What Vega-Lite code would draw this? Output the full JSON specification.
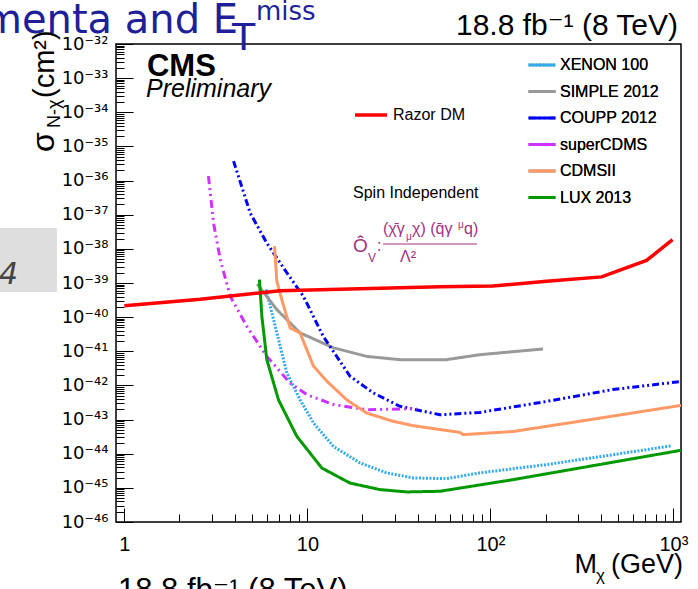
{
  "$schema": "https://vega.github.io/schema/vega-lite/v6.json",
  "width": 565,
  "height": 478,
  "autosize": {"type": "none"},
  "padding": {"left": 116, "top": 44, "right": 17, "bottom": 67},
  "background": "#ffffff",
  "config": {"view": {"stroke": "#000000", "strokeWidth": 1.5}, "font": "Liberation Sans, DejaVu Sans"},
  "data": {"values": [{}]},
  "datasets": {
    "exp": [
      {"series": "XENON 100", "m": 5.95, "s": 6.46e-40},
      {"series": "XENON 100", "m": 6.81, "s": 3.47e-41},
      {"series": "XENON 100", "m": 7.72, "s": 2.34e-42},
      {"series": "XENON 100", "m": 9.12, "s": 3.8e-43},
      {"series": "XENON 100", "m": 10.8, "s": 7.94e-44},
      {"series": "XENON 100", "m": 13.9, "s": 1.62e-44},
      {"series": "XENON 100", "m": 19.4, "s": 5.37e-45},
      {"series": "XENON 100", "m": 27.1, "s": 2.75e-45},
      {"series": "XENON 100", "m": 37.9, "s": 1.95e-45},
      {"series": "XENON 100", "m": 57.6, "s": 1.86e-45},
      {"series": "XENON 100", "m": 87.5, "s": 2.75e-45},
      {"series": "XENON 100", "m": 202, "s": 4.79e-45},
      {"series": "XENON 100", "m": 467, "s": 9.33e-45},
      {"series": "XENON 100", "m": 973, "s": 1.7e-44},
      {"series": "SIMPLE 2012", "m": 5.32, "s": 9.33e-40},
      {"series": "SIMPLE 2012", "m": 6.81, "s": 1.66e-40},
      {"series": "SIMPLE 2012", "m": 9.12, "s": 3.47e-41},
      {"series": "SIMPLE 2012", "m": 13.9, "s": 1.26e-41},
      {"series": "SIMPLE 2012", "m": 21.1, "s": 7.08e-42},
      {"series": "SIMPLE 2012", "m": 32.0, "s": 5.69e-42},
      {"series": "SIMPLE 2012", "m": 57.6, "s": 5.69e-42},
      {"series": "SIMPLE 2012", "m": 87.5, "s": 7.94e-42},
      {"series": "SIMPLE 2012", "m": 194, "s": 1.17e-41},
      {"series": "COUPP 2012", "m": 3.95, "s": 3.72e-36},
      {"series": "COUPP 2012", "m": 4.87, "s": 1.12e-37},
      {"series": "COUPP 2012", "m": 6.0, "s": 1.48e-38},
      {"series": "COUPP 2012", "m": 7.72, "s": 2.0e-39},
      {"series": "COUPP 2012", "m": 9.51, "s": 4.07e-40},
      {"series": "COUPP 2012", "m": 12.2, "s": 2.75e-41},
      {"series": "COUPP 2012", "m": 17.1, "s": 1.86e-42},
      {"series": "COUPP 2012", "m": 22.9, "s": 6.03e-43},
      {"series": "COUPP 2012", "m": 32.0, "s": 2.45e-43},
      {"series": "COUPP 2012", "m": 53, "s": 1.38e-43},
      {"series": "COUPP 2012", "m": 87.5, "s": 1.62e-43},
      {"series": "COUPP 2012", "m": 202, "s": 3.39e-43},
      {"series": "COUPP 2012", "m": 467, "s": 7.59e-43},
      {"series": "COUPP 2012", "m": 1100, "s": 1.3e-42},
      {"series": "superCDMS", "m": 2.88, "s": 1.35e-36},
      {"series": "superCDMS", "m": 3.07, "s": 5.75e-38},
      {"series": "superCDMS", "m": 3.34, "s": 4.9e-39},
      {"series": "superCDMS", "m": 3.79, "s": 4.07e-40},
      {"series": "superCDMS", "m": 4.67, "s": 5.37e-41},
      {"series": "superCDMS", "m": 6.0, "s": 7.08e-42},
      {"series": "superCDMS", "m": 8.05, "s": 1.17e-42},
      {"series": "superCDMS", "m": 9.93, "s": 5.37e-43},
      {"series": "superCDMS", "m": 13.9, "s": 2.75e-43},
      {"series": "superCDMS", "m": 21.1, "s": 1.95e-43},
      {"series": "superCDMS", "m": 39.5, "s": 2.09e-43},
      {"series": "CDMSII", "m": 6.61, "s": 1.2e-38},
      {"series": "CDMSII", "m": 6.81, "s": 1.12e-39},
      {"series": "CDMSII", "m": 7.25, "s": 3.24e-40},
      {"series": "CDMSII", "m": 8.05, "s": 4.79e-41},
      {"series": "CDMSII", "m": 9.12, "s": 3.47e-41},
      {"series": "CDMSII", "m": 10.8, "s": 3.63e-42},
      {"series": "CDMSII", "m": 12.8, "s": 1.32e-42},
      {"series": "CDMSII", "m": 16.4, "s": 3.8e-43},
      {"series": "CDMSII", "m": 21.1, "s": 1.55e-43},
      {"series": "CDMSII", "m": 29.4, "s": 8.91e-44},
      {"series": "CDMSII", "m": 37.9, "s": 6.61e-44},
      {"series": "CDMSII", "m": 68.1, "s": 4.22e-44},
      {"series": "CDMSII", "m": 71.0, "s": 3.63e-44},
      {"series": "CDMSII", "m": 133, "s": 4.47e-44},
      {"series": "CDMSII", "m": 307, "s": 8.91e-44},
      {"series": "CDMSII", "m": 1100, "s": 2.6e-43},
      {"series": "LUX 2013", "m": 5.47, "s": 1.26e-39},
      {"series": "LUX 2013", "m": 5.64, "s": 1.05e-40},
      {"series": "LUX 2013", "m": 6.0, "s": 5.75e-42},
      {"series": "LUX 2013", "m": 6.95, "s": 3.8e-43},
      {"series": "LUX 2013", "m": 8.75, "s": 3.24e-44},
      {"series": "LUX 2013", "m": 12.0, "s": 3.8e-45},
      {"series": "LUX 2013", "m": 17.1, "s": 1.38e-45},
      {"series": "LUX 2013", "m": 24.9, "s": 8.91e-46},
      {"series": "LUX 2013", "m": 34.9, "s": 7.59e-46},
      {"series": "LUX 2013", "m": 53, "s": 7.94e-46},
      {"series": "LUX 2013", "m": 133, "s": 1.74e-45},
      {"series": "LUX 2013", "m": 1100, "s": 1.26e-44}
    ],
    "razor": [
      {"series": "Razor DM", "m": 1, "s": 2.16e-40},
      {"series": "Razor DM", "m": 2.6, "s": 3.33e-40},
      {"series": "Razor DM", "m": 7.1, "s": 5.96e-40},
      {"series": "Razor DM", "m": 24.9, "s": 7.0e-40},
      {"series": "Razor DM", "m": 53, "s": 7.8e-40},
      {"series": "Razor DM", "m": 103, "s": 8.17e-40},
      {"series": "Razor DM", "m": 203, "s": 1.12e-39},
      {"series": "Razor DM", "m": 405, "s": 1.51e-39},
      {"series": "Razor DM", "m": 713, "s": 4.57e-39},
      {"series": "Razor DM", "m": 989, "s": 1.86e-38}
    ]
  },
  "layer": [
    {
      "mark": {"type": "rect", "color": "#dedede"},
      "encoding": {
        "x": {"datum": 0.209, "type": "quantitative", "scale": {"type": "log", "domain": [0.9, 1100], "nice": false}, "axis": null},
        "x2": {"datum": 0.428},
        "y": {"datum": 4.08e-38, "type": "quantitative", "scale": {"type": "log", "domain": [1e-46, 1e-32], "nice": false}, "axis": null},
        "y2": {"datum": 5.44e-40}
      }
    },
    {
      "data": {"name": "exp"},
      "mark": {"type": "line", "strokeWidth": 3, "clip": true},
      "encoding": {
        "x": {"field": "m", "type": "quantitative", "scale": {"type": "log", "domain": [0.9, 1100], "nice": false},
          "axis": {"orient": "bottom", "values": [1, 10, 100, 1000], "labelExpr": "datum.value == 1 ? '1' : datum.value == 10 ? '10' : datum.value == 100 ? '10²' : '10³'", "tickSize": -14, "tickColor": "#000000", "tickWidth": 1, "domain": false, "grid": false, "title": null, "labelFont": "Liberation Sans, DejaVu Sans", "labelFontSize": 20, "labelColor": "#000000", "labelPadding": 26, "labelFlush": false, "labelOverlap": false, "labelBaseline": "top"}},
        "y": {"field": "s", "type": "quantitative", "scale": {"type": "log", "domain": [1e-46, 1e-32], "nice": false},
          "axis": {"orient": "left", "values": [1e-46, 1e-45, 1e-44, 1e-43, 1e-42, 1e-41, 1e-40, 1e-39, 1e-38, 1e-37, 1e-36, 1e-35, 1e-34, 1e-33, 1e-32], "labelExpr": "datum.value < 3e-46 ? '10⁻⁴⁶' : datum.value < 3e-45 ? '10⁻⁴⁵' : datum.value < 3e-44 ? '10⁻⁴⁴' : datum.value < 3e-43 ? '10⁻⁴³' : datum.value < 3e-42 ? '10⁻⁴²' : datum.value < 3e-41 ? '10⁻⁴¹' : datum.value < 3e-40 ? '10⁻⁴⁰' : datum.value < 3e-39 ? '10⁻³⁹' : datum.value < 3e-38 ? '10⁻³⁸' : datum.value < 3e-37 ? '10⁻³⁷' : datum.value < 3e-36 ? '10⁻³⁶' : datum.value < 3e-35 ? '10⁻³⁵' : datum.value < 3e-34 ? '10⁻³⁴' : datum.value < 3e-33 ? '10⁻³³' : '10⁻³²'", "tickSize": -17, "tickColor": "#000000", "tickWidth": 1, "domain": false, "grid": false, "title": null, "labelFont": "DejaVu Sans", "labelFontSize": 18, "labelColor": "#000000", "labelPadding": 25, "labelFlush": false, "labelOverlap": false, "labelAlign": "right", "labelBaseline": "middle"}},
        "color": {"field": "series", "type": "nominal",
          "scale": {"domain": ["XENON 100", "SIMPLE 2012", "COUPP 2012", "superCDMS", "CDMSII", "LUX 2013"], "range": ["#33aaee", "#999999", "#0000ff", "#cc33ff", "#ff9966", "#009900"]},
          "legend": {"orient": "none", "legendX": 411, "legendY": 6, "title": null, "symbolType": "stroke", "symbolSize": 729, "symbolStrokeWidth": 3, "labelFont": "Liberation Sans", "labelFontSize": 16, "labelColor": "#000000", "labelOffset": 3, "rowPadding": 3.5, "padding": 0}},
        "strokeDash": {"field": "series", "type": "nominal",
          "scale": {"domain": ["XENON 100", "SIMPLE 2012", "COUPP 2012", "superCDMS", "CDMSII", "LUX 2013"], "range": [[2, 1.5], [1, 0], [7, 3, 2, 3, 2, 3], [8, 4, 2, 4, 2, 4], [1, 0], [1, 0]]},
          "legend": {"orient": "none", "legendX": 411, "legendY": 6, "title": null, "symbolType": "stroke", "symbolSize": 729, "symbolStrokeWidth": 3, "labelFont": "Liberation Sans", "labelFontSize": 16, "labelColor": "#000000", "labelOffset": 3, "rowPadding": 3.5, "padding": 0}}
      }
    },
    {
      "data": {"name": "razor"},
      "mark": {"type": "line", "strokeWidth": 3.5, "clip": true},
      "encoding": {
        "x": {"field": "m", "type": "quantitative", "scale": {"type": "log", "domain": [0.9, 1100], "nice": false},
          "axis": {"orient": "bottom", "values": [2, 3, 4, 5, 6, 7, 8, 9, 20, 30, 40, 50, 60, 70, 80, 90, 200, 300, 400, 500, 600, 700, 800, 900], "labels": false, "tickSize": -8, "tickColor": "#000000", "tickWidth": 1, "domain": false, "grid": false, "title": null}},
        "y": {"field": "s", "type": "quantitative", "scale": {"type": "log", "domain": [1e-46, 1e-32], "nice": false},
          "axis": {"orient": "left", "values": [2e-46, 3e-46, 4e-46, 5e-46, 6e-46, 7e-46, 8e-46, 9e-46, 2e-45, 3e-45, 4e-45, 5e-45, 6e-45, 7e-45, 8e-45, 9e-45, 2e-44, 3e-44, 4e-44, 5e-44, 6e-44, 7e-44, 8e-44, 9e-44, 2e-43, 3e-43, 4e-43, 5e-43, 6e-43, 7e-43, 8e-43, 9e-43, 2e-42, 3e-42, 4e-42, 5e-42, 6e-42, 7e-42, 8e-42, 9e-42, 2e-41, 3e-41, 4e-41, 5e-41, 6e-41, 7e-41, 8e-41, 9e-41, 2e-40, 3e-40, 4e-40, 5e-40, 6e-40, 7e-40, 8e-40, 9e-40, 2e-39, 3e-39, 4e-39, 5e-39, 6e-39, 7e-39, 8e-39, 9e-39, 2e-38, 3e-38, 4e-38, 5e-38, 6e-38, 7e-38, 8e-38, 9e-38, 2e-37, 3e-37, 4e-37, 5e-37, 6e-37, 7e-37, 8e-37, 9e-37, 2e-36, 3e-36, 4e-36, 5e-36, 6e-36, 7e-36, 8e-36, 9e-36, 2e-35, 3e-35, 4e-35, 5e-35, 6e-35, 7e-35, 8e-35, 9e-35, 2e-34, 3e-34, 4e-34, 5e-34, 6e-34, 7e-34, 8e-34, 9e-34, 2e-33, 3e-33, 4e-33, 5e-33, 6e-33, 7e-33, 8e-33, 9e-33], "labels": false, "tickSize": -8, "tickColor": "#000000", "tickWidth": 1, "domain": false, "grid": false, "title": null}},
        "color": {"field": "series", "type": "nominal",
          "scale": {"domain": ["Razor DM"], "range": ["#ff0000"]},
          "legend": {"orient": "none", "legendX": 237, "legendY": 53, "title": null, "symbolType": "stroke", "symbolSize": 1024, "symbolStrokeWidth": 3.5, "labelFont": "Liberation Sans", "labelFontSize": 16, "labelColor": "#000000", "labelOffset": 4, "rowPadding": 0, "padding": 0}}
      }
    },
    {
      "mark": {"type": "text", "text": "18.8 fb⁻¹ (8 TeV)", "align": "right", "baseline": "alphabetic", "font": "Liberation Sans, DejaVu Sans", "fontSize": 30, "color": "#000000"},
      "encoding": {
        "x": {"datum": 1060, "type": "quantitative", "scale": {"type": "log", "domain": [0.9, 1100], "nice": false}, "axis": null},
        "y": {"datum": 1.834e-32, "type": "quantitative", "scale": {"type": "log", "domain": [1e-46, 1e-32], "nice": false}, "axis": null}
      }
    },
    {
      "mark": {"type": "text", "text": "CMS", "align": "left", "baseline": "alphabetic", "font": "Liberation Sans", "fontSize": 31, "fontWeight": "bold", "color": "#000000"},
      "encoding": {
        "x": {"datum": 1.329, "type": "quantitative", "scale": {"type": "log", "domain": [0.9, 1100], "nice": false}, "axis": null},
        "y": {"datum": 1.156e-33, "type": "quantitative", "scale": {"type": "log", "domain": [1e-46, 1e-32], "nice": false}, "axis": null}
      }
    },
    {
      "mark": {"type": "text", "text": "Preliminary", "align": "left", "baseline": "alphabetic", "font": "Liberation Sans", "fontSize": 25, "fontStyle": "italic", "color": "#000000"},
      "encoding": {
        "x": {"datum": 1.313, "type": "quantitative", "scale": {"type": "log", "domain": [0.9, 1100], "nice": false}, "axis": null},
        "y": {"datum": 2.806e-34, "type": "quantitative", "scale": {"type": "log", "domain": [1e-46, 1e-32], "nice": false}, "axis": null}
      }
    },
    {
      "mark": {"type": "text", "text": "Spin Independent", "align": "left", "baseline": "alphabetic", "font": "Liberation Sans", "fontSize": 16, "color": "#000000"},
      "encoding": {
        "x": {"datum": 17.76, "type": "quantitative", "scale": {"type": "log", "domain": [0.9, 1100], "nice": false}, "axis": null},
        "y": {"datum": 2.985e-37, "type": "quantitative", "scale": {"type": "log", "domain": [1e-46, 1e-32], "nice": false}, "axis": null}
      }
    },
    {
      "mark": {"type": "text", "text": "Ô", "align": "left", "baseline": "alphabetic", "font": "Liberation Sans", "fontSize": 19, "color": "#a3307e"},
      "encoding": {
        "x": {"datum": 17.76, "type": "quantitative", "scale": {"type": "log", "domain": [0.9, 1100], "nice": false}, "axis": null},
        "y": {"datum": 8.09e-39, "type": "quantitative", "scale": {"type": "log", "domain": [1e-46, 1e-32], "nice": false}, "axis": null}
      }
    },
    {
      "mark": {"type": "text", "text": "V", "align": "left", "baseline": "alphabetic", "font": "Liberation Sans", "fontSize": 12, "color": "#a3307e"},
      "encoding": {
        "x": {"datum": 21.45, "type": "quantitative", "scale": {"type": "log", "domain": [0.9, 1100], "nice": false}, "axis": null},
        "y": {"datum": 4.12e-39, "type": "quantitative", "scale": {"type": "log", "domain": [1e-46, 1e-32], "nice": false}, "axis": null}
      }
    },
    {
      "mark": {"type": "text", "text": ":", "align": "left", "baseline": "alphabetic", "font": "Liberation Sans", "fontSize": 16, "color": "#a3307e"},
      "encoding": {
        "x": {"datum": 24.02, "type": "quantitative", "scale": {"type": "log", "domain": [0.9, 1100], "nice": false}, "axis": null},
        "y": {"datum": 8.65e-39, "type": "quantitative", "scale": {"type": "log", "domain": [1e-46, 1e-32], "nice": false}, "axis": null}
      }
    },
    {
      "mark": {"type": "text", "text": "(χ̄γ", "align": "left", "baseline": "alphabetic", "font": "Liberation Sans, DejaVu Sans", "fontSize": 16, "color": "#a3307e"},
      "encoding": {
        "x": {"datum": 25.9, "type": "quantitative", "scale": {"type": "log", "domain": [0.9, 1100], "nice": false}, "axis": null},
        "y": {"datum": 2.72e-38, "type": "quantitative", "scale": {"type": "log", "domain": [1e-46, 1e-32], "nice": false}, "axis": null}
      }
    },
    {
      "mark": {"type": "text", "text": "μ", "align": "left", "baseline": "alphabetic", "font": "Liberation Sans", "fontSize": 10, "color": "#a3307e"},
      "encoding": {
        "x": {"datum": 34.6, "type": "quantitative", "scale": {"type": "log", "domain": [0.9, 1100], "nice": false}, "axis": null},
        "y": {"datum": 1.815e-38, "type": "quantitative", "scale": {"type": "log", "domain": [1e-46, 1e-32], "nice": false}, "axis": null}
      }
    },
    {
      "mark": {"type": "text", "text": "χ) (q̄γ", "align": "left", "baseline": "alphabetic", "font": "Liberation Sans, DejaVu Sans", "fontSize": 16, "color": "#a3307e"},
      "encoding": {
        "x": {"datum": 37.3, "type": "quantitative", "scale": {"type": "log", "domain": [0.9, 1100], "nice": false}, "axis": null},
        "y": {"datum": 2.72e-38, "type": "quantitative", "scale": {"type": "log", "domain": [1e-46, 1e-32], "nice": false}, "axis": null}
      }
    },
    {
      "mark": {"type": "text", "text": "μ", "align": "left", "baseline": "alphabetic", "font": "Liberation Sans", "fontSize": 10, "color": "#a3307e"},
      "encoding": {
        "x": {"datum": 66.5, "type": "quantitative", "scale": {"type": "log", "domain": [0.9, 1100], "nice": false}, "axis": null},
        "y": {"datum": 4.08e-38, "type": "quantitative", "scale": {"type": "log", "domain": [1e-46, 1e-32], "nice": false}, "axis": null}
      }
    },
    {
      "mark": {"type": "text", "text": "q)", "align": "left", "baseline": "alphabetic", "font": "Liberation Sans", "fontSize": 16, "color": "#a3307e"},
      "encoding": {
        "x": {"datum": 71.8, "type": "quantitative", "scale": {"type": "log", "domain": [0.9, 1100], "nice": false}, "axis": null},
        "y": {"datum": 2.72e-38, "type": "quantitative", "scale": {"type": "log", "domain": [1e-46, 1e-32], "nice": false}, "axis": null}
      }
    },
    {
      "mark": {"type": "rule", "color": "#a3307e", "strokeWidth": 1},
      "encoding": {
        "x": {"datum": 25.9, "type": "quantitative", "scale": {"type": "log", "domain": [0.9, 1100], "nice": false}, "axis": null},
        "x2": {"datum": 84.5},
        "y": {"datum": 1.387e-38, "type": "quantitative", "scale": {"type": "log", "domain": [1e-46, 1e-32], "nice": false}, "axis": null}
      }
    },
    {
      "mark": {"type": "text", "text": "Λ²", "align": "left", "baseline": "alphabetic", "font": "Liberation Sans, DejaVu Sans", "fontSize": 16, "color": "#a3307e"},
      "encoding": {
        "x": {"datum": 32.1, "type": "quantitative", "scale": {"type": "log", "domain": [0.9, 1100], "nice": false}, "axis": null},
        "y": {"datum": 4.12e-39, "type": "quantitative", "scale": {"type": "log", "domain": [1e-46, 1e-32], "nice": false}, "axis": null}
      }
    },
    {
      "mark": {"type": "text", "text": "4", "align": "right", "baseline": "alphabetic", "font": "DejaVu Sans", "fontSize": 30, "fontStyle": "italic", "color": "#444444"},
      "encoding": {
        "x": {"datum": 0.2623, "type": "quantitative", "scale": {"type": "log", "domain": [0.9, 1100], "nice": false}, "axis": null},
        "y": {"datum": 9.35e-40, "type": "quantitative", "scale": {"type": "log", "domain": [1e-46, 1e-32], "nice": false}, "axis": null}
      }
    },
    {
      "mark": {"type": "text", "text": "18.8 fb⁻¹ (8 TeV)", "align": "left", "baseline": "alphabetic", "font": "Liberation Sans, DejaVu Sans", "fontSize": 31, "color": "#000000"},
      "encoding": {
        "x": {"datum": 0.923, "type": "quantitative", "scale": {"type": "log", "domain": [0.9, 1100], "nice": false}, "axis": null},
        "y": {"datum": 5.194e-49, "type": "quantitative", "scale": {"type": "log", "domain": [1e-46, 1e-32], "nice": false}, "axis": null}
      }
    },
    {
      "mark": {"type": "text", "text": "menta and E", "align": "right", "baseline": "alphabetic", "font": "DejaVu Sans", "fontSize": 40, "color": "#1f1f99"},
      "encoding": {
        "x": {"datum": 4.18, "type": "quantitative", "scale": {"type": "log", "domain": [0.9, 1100], "nice": false}, "axis": null},
        "y": {"datum": 2.1e-32, "type": "quantitative", "scale": {"type": "log", "domain": [1e-46, 1e-32], "nice": false}, "axis": null}
      }
    },
    {
      "mark": {"type": "text", "text": "T", "align": "left", "baseline": "alphabetic", "font": "DejaVu Sans", "fontSize": 38, "color": "#1f1f99"},
      "encoding": {
        "x": {"datum": 3.874, "type": "quantitative", "scale": {"type": "log", "domain": [0.9, 1100], "nice": false}, "axis": null},
        "y": {"datum": 6.67e-33, "type": "quantitative", "scale": {"type": "log", "domain": [1e-46, 1e-32], "nice": false}, "axis": null}
      }
    },
    {
      "mark": {"type": "text", "text": "miss", "align": "left", "baseline": "alphabetic", "font": "DejaVu Sans", "fontSize": 26, "color": "#1f1f99"},
      "encoding": {
        "x": {"datum": 5.24, "type": "quantitative", "scale": {"type": "log", "domain": [0.9, 1100], "nice": false}, "axis": null},
        "y": {"datum": 5.05e-32, "type": "quantitative", "scale": {"type": "log", "domain": [1e-46, 1e-32], "nice": false}, "axis": null}
      }
    },
    {
      "mark": {"type": "text", "text": "M", "align": "left", "baseline": "alphabetic", "font": "Liberation Sans", "fontSize": 27, "color": "#000000"},
      "encoding": {
        "x": {"datum": 288, "type": "quantitative", "scale": {"type": "log", "domain": [0.9, 1100], "nice": false}, "axis": null},
        "y": {"datum": 3.21e-48, "type": "quantitative", "scale": {"type": "log", "domain": [1e-46, 1e-32], "nice": false}, "axis": null}
      }
    },
    {
      "mark": {"type": "text", "text": "χ", "align": "left", "baseline": "alphabetic", "font": "Liberation Sans", "fontSize": 17, "color": "#000000"},
      "encoding": {
        "x": {"datum": 378, "type": "quantitative", "scale": {"type": "log", "domain": [0.9, 1100], "nice": false}, "axis": null},
        "y": {"datum": 1.87e-48, "type": "quantitative", "scale": {"type": "log", "domain": [1e-46, 1e-32], "nice": false}, "axis": null}
      }
    },
    {
      "mark": {"type": "text", "text": "(GeV)", "align": "right", "baseline": "alphabetic", "font": "Liberation Sans", "fontSize": 27, "color": "#000000"},
      "encoding": {
        "x": {"datum": 1129, "type": "quantitative", "scale": {"type": "log", "domain": [0.9, 1100], "nice": false}, "axis": null},
        "y": {"datum": 3.21e-48, "type": "quantitative", "scale": {"type": "log", "domain": [1e-46, 1e-32], "nice": false}, "axis": null}
      }
    },
    {
      "mark": {"type": "text", "text": "σ", "align": "left", "baseline": "alphabetic", "angle": 270, "font": "Liberation Sans", "fontSize": 32, "color": "#000000"},
      "encoding": {
        "x": {"datum": 0.4124, "type": "quantitative", "scale": {"type": "log", "domain": [0.9, 1100], "nice": false}, "axis": null},
        "y": {"datum": 6.87e-36, "type": "quantitative", "scale": {"type": "log", "domain": [1e-46, 1e-32], "nice": false}, "axis": null}
      }
    },
    {
      "mark": {"type": "text", "text": "N-χ", "align": "left", "baseline": "alphabetic", "angle": 270, "font": "Liberation Sans", "fontSize": 18, "color": "#000000"},
      "encoding": {
        "x": {"datum": 0.4447, "type": "quantitative", "scale": {"type": "log", "domain": [0.9, 1100], "nice": false}, "axis": null},
        "y": {"datum": 3.47e-35, "type": "quantitative", "scale": {"type": "log", "domain": [1e-46, 1e-32], "nice": false}, "axis": null}
      }
    },
    {
      "mark": {"type": "text", "text": "(cm²)", "align": "left", "baseline": "alphabetic", "angle": 270, "font": "Liberation Sans", "fontSize": 29, "color": "#000000"},
      "encoding": {
        "x": {"datum": 0.4124, "type": "quantitative", "scale": {"type": "log", "domain": [0.9, 1100], "nice": false}, "axis": null},
        "y": {"datum": 2.62e-34, "type": "quantitative", "scale": {"type": "log", "domain": [1e-46, 1e-32], "nice": false}, "axis": null}
      }
    }
  ],
  "resolve": {"scale": {"color": "independent"}, "legend": {"color": "independent"}, "axis": {"x": "independent", "y": "independent"}}
}
